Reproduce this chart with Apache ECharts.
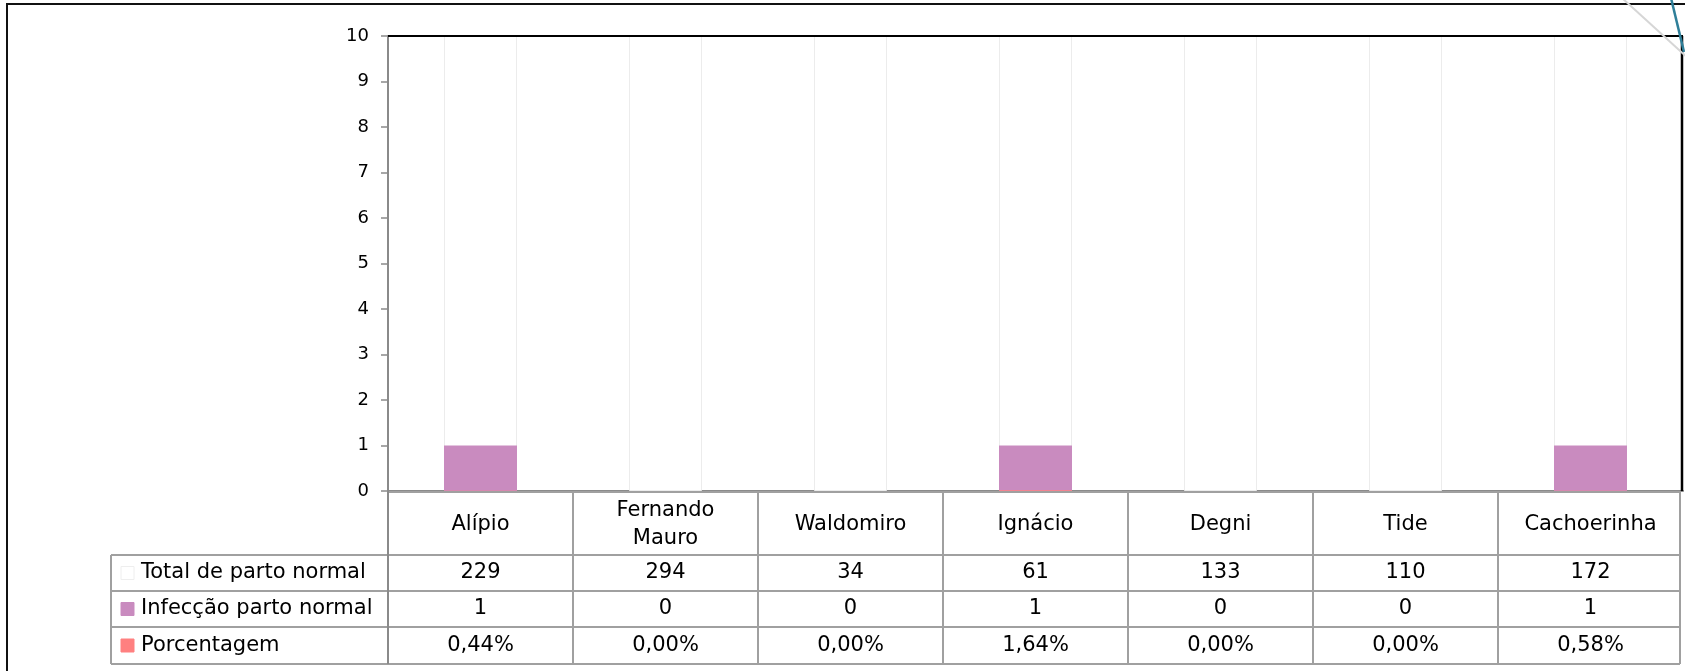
<!DOCTYPE html>
<html>
<head>
<meta charset="utf-8">
<script src="https://cdn.jsdelivr.net/npm/echarts@6/dist/echarts.min.js"></script>
<style>
  html, body { margin: 0; padding: 0; background: #fff; }
  #chart { width: 1685px; height: 671px; }
</style>
</head>
<body>
<div id="chart"></div>
<script>
// Partos normais e infecções por unidade
const categories = ['Alípio', 'Fernando\nMauro', 'Waldomiro', 'Ignácio', 'Degni', 'Tide', 'Cachoerinha'];
const totalPartoNormal = [229, 294, 34, 61, 133, 110, 172];
const infeccaoPartoNormal = [1, 0, 0, 1, 0, 0, 1];
const porcentagem = [0.44, 0.00, 0.00, 1.64, 0.00, 0.00, 0.58]; // em %
const seriesNames = ['Total de parto normal', 'Infecção parto normal', 'Porcentagem'];
const seriesColors = ['#ffffff', '#c98bbf', '#ff8080'];

const FONT = '"DejaVu Sans", "Noto Sans", sans-serif';
const chart = echarts.init(document.getElementById('chart'), null, { renderer: 'canvas' });

const fmtPct = v => v.toFixed(2).replace('.', ',') + '%';

chart.setOption({
  animation: false,
  backgroundColor: '#ffffff',
  grid: { left: 388, top: 36, right: 2, bottom: 180, show: false },
  xAxis: {
    type: 'category',
    data: categories,
    axisLine: { show: true, lineStyle: { color: '#8a8a8a', width: 2 } },
    axisTick: { show: false },
    axisLabel: { show: false },
    splitLine: { show: false }
  },
  yAxis: {
    type: 'value',
    min: 0, max: 10, interval: 1,
    axisLine: { show: true, lineStyle: { color: '#8a8a8a', width: 2 } },
    axisTick: { show: true, length: 7, lineStyle: { color: '#8a8a8a', width: 1.5 } },
    axisLabel: { margin: 19, color: '#000', fontSize: 18, fontFamily: FONT },
    splitLine: { show: false }
  },
  series: [
    {
      name: seriesNames[0], type: 'bar', data: totalPartoNormal,
      barWidth: 73, barGap: '-100%', clip: true,
      itemStyle: { color: seriesColors[0], borderColor: '#ececec', borderWidth: 1 }
    },
    {
      name: seriesNames[1], type: 'bar', data: infeccaoPartoNormal,
      barWidth: 73, barGap: '-100%', clip: true,
      itemStyle: { color: seriesColors[1] }
    },
    {
      name: seriesNames[2], type: 'bar', data: porcentagem.map(v => v / 100),
      barWidth: 73, barGap: '-100%', clip: true,
      itemStyle: { color: seriesColors[2] }
    }
  ]
});

// Data table drawn beneath the plot, aligned with the category bands
const c0 = chart.convertToPixel({ xAxisIndex: 0 }, 0);
const c1 = chart.convertToPixel({ xAxisIndex: 0 }, 1);
const band = c1 - c0;
const plotLeft = c0 - band / 2;
const plotRight = plotLeft + band * categories.length;
const yZero = chart.convertToPixel({ yAxisIndex: 0 }, 0);
const yTop = chart.convertToPixel({ yAxisIndex: 0 }, 10);

const rowEdges = [yZero, yZero + 64, yZero + 100, yZero + 136, yZero + 173];
const tableLeft = 111;
const tableRight = plotRight - 3;
const lineColor = '#a0a0a0';
const g = [];

const hLine = (x1, x2, y, color, w, z) => g.push({
  type: 'line', z: z || 50,
  shape: { x1, y1: y, x2, y2: y },
  style: { stroke: color, lineWidth: w }
});
const vLine = (x, y1, y2, color, w, z) => g.push({
  type: 'line', z: z || 50,
  shape: { x1: x, y1, x2: x, y2 },
  style: { stroke: color, lineWidth: w }
});
const text = (str, x, y, align) => g.push({
  type: 'text', z: 60, x, y,
  style: {
    text: str, font: '21px ' + FONT, fill: '#000',
    align: align || 'center', verticalAlign: 'middle', lineHeight: 28
  }
});

// Outer frame of the chart
g.push({
  type: 'rect', z: 1,
  shape: { x: 7, y: 4, width: 1720, height: 720 },
  style: { fill: 'none', stroke: '#111', lineWidth: 2 }
});
// Decorative strokes in the top-right corner
g.push({ type: 'line', z: 120, shape: { x1: 1622, y1: -2, x2: 1690, y2: 60 }, style: { stroke: '#d6d6d6', lineWidth: 2 } });
g.push({ type: 'line', z: 121, shape: { x1: 1671, y1: -2, x2: 1684, y2: 52 }, style: { stroke: '#2f7f99', lineWidth: 2.5 } });

// Plot frame: top and right edges
hLine(plotLeft, plotRight, yTop, '#000', 2, 100);
vLine(plotRight - 1, yTop, yZero, '#000', 2.5, 100);

// Horizontal table rules
hLine(plotLeft, tableRight, rowEdges[0] + 1, lineColor, 2);
for (let r = 1; r < rowEdges.length; r++) hLine(tableLeft, tableRight, rowEdges[r], lineColor, 2);
// Vertical table rules
vLine(tableLeft, rowEdges[1], rowEdges[4], lineColor, 2);
vLine(plotLeft, yZero, rowEdges[4], '#8a8a8a', 2);
for (let i = 1; i < categories.length; i++) vLine(plotLeft + band * i, yZero, rowEdges[4], lineColor, 2);
vLine(tableRight, yZero, rowEdges[4], lineColor, 2);

// Header row: category names
categories.forEach((name, i) => text(name, plotLeft + band * (i + 0.5), (rowEdges[0] + rowEdges[1]) / 2 + 2));

// Series rows: legend key + label + values
const rows = [
  totalPartoNormal.map(String),
  infeccaoPartoNormal.map(String),
  porcentagem.map(fmtPct)
];
rows.forEach((vals, r) => {
  const yc = (rowEdges[r + 1] + rowEdges[r + 2]) / 2;
  g.push({
    type: 'rect', z: 60,
    shape: { x: 121, y: yc - 6.5, width: 13, height: 13 },
    style: { fill: seriesColors[r], stroke: r === 0 ? '#eeeeee' : seriesColors[r], lineWidth: 1 }
  });
  text(seriesNames[r], 141, yc, 'left');
  vals.forEach((v, i) => text(v, plotLeft + band * (i + 0.5), yc));
});

chart.setOption({ graphic: g });
</script>
</body>
</html>
